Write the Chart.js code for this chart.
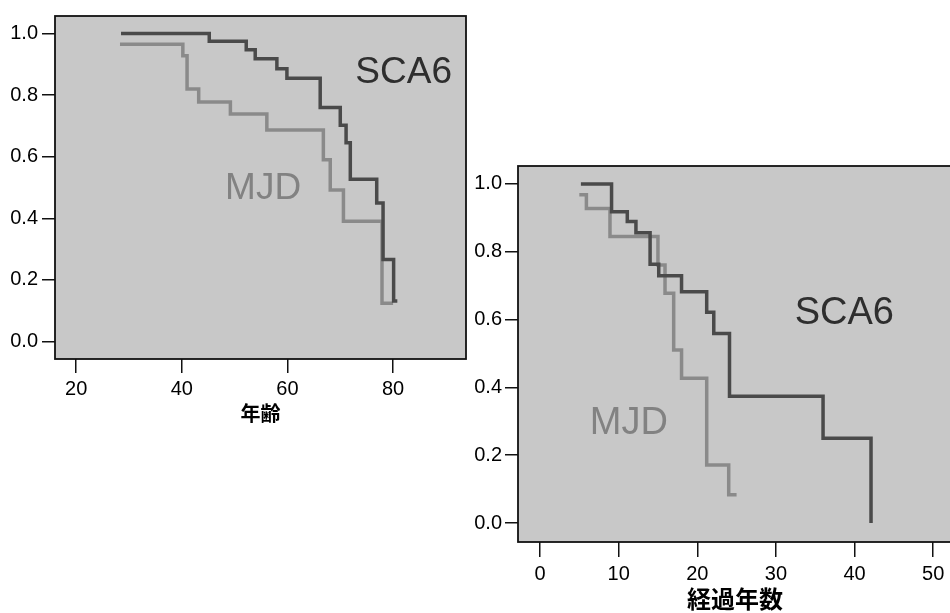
<!DOCTYPE html>
<html><head><meta charset="utf-8">
<script src="https://cdn.jsdelivr.net/npm/chart.js@4.4.1/dist/chart.umd.min.js"></script>
<style>
html,body{margin:0;padding:0;background:#fff;overflow:hidden;width:950px;height:613px;}
#wrap{position:relative;width:950px;height:613px;overflow:hidden;}
canvas{position:absolute;}
</style></head><body>
<div id="wrap">
<canvas id="c1" width="480" height="430" style="left:0;top:0;width:480px;height:430px"></canvas>
<canvas id="c2" width="495" height="463" style="left:460px;top:150px;width:495px;height:463px"></canvas>
</div>
<script>
// ---- Data: survival vs age (年齢)
const ageSCA6X = [28.5, 45.2, 52.2, 53.9, 58.0, 59.9, 66.2, 70.0, 71.1, 71.9, 76.9, 78.1, 80.1, 80.8];
const ageSCA6Y = [1.0, 0.975, 0.947, 0.918, 0.886, 0.855, 0.760, 0.702, 0.645, 0.527, 0.450, 0.266, 0.131, 0.131];
const ageMJDX  = [28.3, 40.2, 41.0, 43.2, 49.2, 56.1, 66.8, 68.1, 70.6, 77.9, 80.0];
const ageMJDY  = [0.965, 0.928, 0.820, 0.778, 0.739, 0.687, 0.590, 0.492, 0.390, 0.124, 0.124];
// ---- Data: survival vs years elapsed (経過年数)
const yrsSCA6X = [5.2, 9.1, 11.1, 12.2, 14.0, 15.1, 18.0, 21.2, 22.1, 24.1, 36.0, 42.1];
const yrsSCA6Y = [1.0, 0.918, 0.889, 0.856, 0.763, 0.729, 0.682, 0.622, 0.559, 0.374, 0.250, 0.0];
const yrsMJDX  = [5.0, 5.9, 8.9, 15.0, 15.9, 17.0, 18.0, 21.2, 24.0, 25.0];
const yrsMJDY  = [0.968, 0.928, 0.845, 0.761, 0.678, 0.510, 0.427, 0.171, 0.083, 0.083];
// ---- Tick labels / categories
const survTicks = [0.0, 0.2, 0.4, 0.6, 0.8, 1.0];
const ageTicks  = [20, 40, 60, 80];
const yrsTicks  = [0, 10, 20, 30, 40, 50];
const seriesNames = ['SCA6', 'MJD'];
const axisTitles = ['年齢', '経過年数'];

const pts = (xs, ys) => xs.map((x, i) => ({x: x, y: ys[i]}));

const DARK = '#4a4a4a', LIGHT = '#8a8a8a', BG = '#c8c8c8';
const tickFont = {family: '"Liberation Sans", Arial, sans-serif', size: 20};

const boxPlugin = {
  id: 'box',
  beforeDraw(chart) {
    const {ctx, chartArea: a} = chart;
    ctx.save();
    ctx.fillStyle = BG;
    ctx.fillRect(a.left, a.top, a.right - a.left, a.bottom - a.top);
    ctx.restore();
  },
  afterDatasetsDraw(chart, args, opts) {
    const {ctx, chartArea: a, scales} = chart;
    ctx.save();
    ctx.strokeStyle = '#111';
    ctx.lineWidth = 1.8;
    ctx.strokeRect(a.left, a.top, a.right - a.left, a.bottom - a.top);
    (opts.labels || []).forEach(l => {
      ctx.font = l.size + 'px "Liberation Sans", Arial, sans-serif';
      ctx.fillStyle = l.color;
      ctx.textAlign = 'center';
      ctx.textBaseline = 'middle';
      ctx.fillText(l.text, scales.x.getPixelForValue(l.x), scales.y.getPixelForValue(l.y));
    });
    ctx.restore();
  }
};

function makeChart(id, cfg) {
  return new Chart(document.getElementById(id), {
    type: 'line',
    data: {
      datasets: [
        {label: seriesNames[0], data: cfg.sca6, borderColor: DARK, borderWidth: 3.5, stepped: 'before', pointRadius: 0, fill: false, borderJoinStyle: 'miter'},
        {label: seriesNames[1], data: cfg.mjd, borderColor: LIGHT, borderWidth: 3.5, stepped: 'before', pointRadius: 0, fill: false, borderJoinStyle: 'miter'}
      ]
    },
    options: {
      responsive: false,
      animation: false,
      events: [],
      layout: {padding: cfg.padding},
      plugins: {legend: {display: false}, tooltip: {enabled: false}, box: {labels: cfg.labels}},
      scales: {
        x: {
          type: 'linear', min: cfg.xmin, max: cfg.xmax,
          afterBuildTicks: s => { s.ticks = cfg.xticks.map(v => ({value: v})); },
          afterFit: s => { s.height = cfg.xh; },
          grid: {drawOnChartArea: false, drawTicks: true, tickLength: cfg.xtl, color: '#111', lineWidth: 1.5},
          border: {display: false},
          ticks: {font: tickFont, color: '#000', padding: cfg.xpad, maxRotation: 0, callback: v => String(v)},
          title: {display: true, text: cfg.title, color: '#000', font: {family: '"Noto Sans CJK JP", sans-serif', size: cfg.titleSize, weight: 'bold', lineHeight: 1.2}, padding: {top: 0, bottom: cfg.titlePad}}
        },
        y: {
          type: 'linear', min: cfg.ymin, max: cfg.ymax,
          afterBuildTicks: s => { s.ticks = survTicks.map(v => ({value: v})); },
          afterFit: s => { s.width = cfg.yw; },
          grid: {drawOnChartArea: false, drawTicks: true, tickLength: 13, color: '#111', lineWidth: 1.5},
          border: {display: false},
          ticks: {font: tickFont, color: '#000', padding: cfg.ypad, callback: v => v.toFixed(1)}
        }
      }
    },
    plugins: [boxPlugin]
  });
}

makeChart('c1', {
  sca6: pts(ageSCA6X, ageSCA6Y), mjd: pts(ageMJDX, ageMJDY),
  padding: {left: 0, top: 6, right: 14, bottom: 0},
  xmin: 16.0, xmax: 93.8, ymin: -0.057, ymax: 1.057,
  xticks: ageTicks, xh: 71, xtl: 14, xpad: 4, yw: 55, ypad: 4,
  title: axisTitles[0], titleSize: 20, titlePad: 5,
  labels: [
    {text: seriesNames[0], x: 82.0, y: 0.874, size: 37, color: '#2e2e2e'},
    {text: seriesNames[1], x: 55.4, y: 0.495, size: 37, color: '#828282'}
  ]
});

makeChart('c2', {
  sca6: pts(yrsSCA6X, yrsSCA6Y), mjd: pts(yrsMJDX, yrsMJDY),
  padding: {left: 0, top: 16, right: 3, bottom: 0},
  xmin: -2.8, xmax: 52.4, ymin: -0.056, ymax: 1.053,
  xticks: yrsTicks, xh: 71, xtl: 15, xpad: 5, yw: 58, ypad: 3,
  title: axisTitles[1], titleSize: 24, titlePad: 0,
  labels: [
    {text: seriesNames[0], x: 38.7, y: 0.618, size: 38, color: '#2e2e2e'},
    {text: seriesNames[1], x: 11.3, y: 0.294, size: 38, color: '#828282'}
  ]
});
</script>
</body></html>
